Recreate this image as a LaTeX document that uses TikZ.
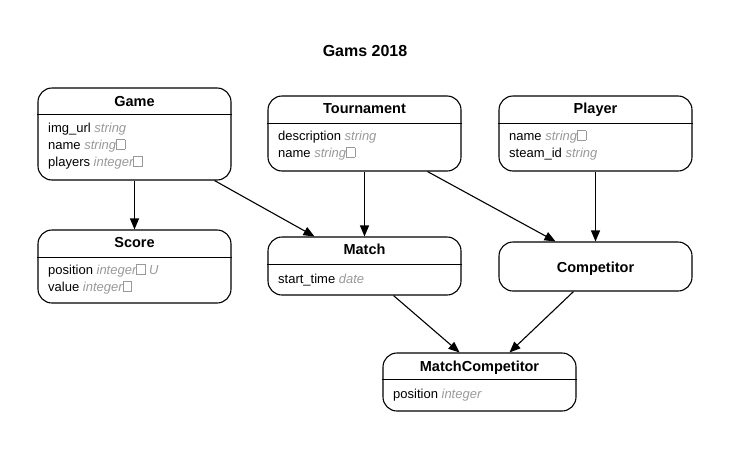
\documentclass[tikz,border=0pt]{standalone}
\usepackage{fontspec}
\setmainfont{Liberation Sans}
\usetikzlibrary{arrows.meta}
\definecolor{typegray}{HTML}{999999}
\newcommand\tofubox{{\color{typegray}\setlength\fboxsep{0pt}\setlength\fboxrule{0.6pt}\fbox{\rule{0pt}{9pt}\rule{8pt}{0pt}}}}
\newcommand\ty[1]{\textcolor{typegray}{\itshape #1}}
\tikzset{
  entity/.style={draw, line width=1.1pt, rounded corners=14pt, minimum width=193pt, inner sep=0pt},
  hdr/.style={font=\fontsize{14.5}{16}\selectfont\bfseries, anchor=base},
  attr/.style={font=\fontsize{13}{15}\selectfont, anchor=base west, inner sep=0pt},
  sep/.style={line width=1pt},
  rel/.style={line width=1.1pt, -{Triangle[length=11pt,width=9pt]}},
  title/.style={font=\fontsize{16}{18}\selectfont\bfseries, anchor=base}
}
\begin{document}
\begin{tikzpicture}[x=1pt,y=-1pt]
\useasboundingbox (0,0) rectangle (730,450);
\node[title] (t) at (365,56) {Gams 2018};
% Game
\node[entity, minimum height=92pt] (game) at (134.5,134) {};
\node[hdr] (gameh) at (134.5,106) {Game};
\draw[sep] (game.west |- 0,114) -- (game.east |- 0,114);
\node[attr] (ga1) at (48,132) {img\_url \ty{string}};
\node[attr] (ga2) at (48,149) {name \ty{string}\tofubox};
\node[attr] (ga3) at (48,166) {players \ty{integer}\tofubox};
% Tournament
\node[entity, minimum height=75pt] (tour) at (364.5,133.5) {};
\node[hdr] (tourh) at (364.5,113) {Tournament};
\draw[sep] (tour.west |- 0,123) -- (tour.east |- 0,123);
\node[attr] (ta1) at (278,140) {description \ty{string}};
\node[attr] (ta2) at (278,157) {name \ty{string}\tofubox};
% Player
\node[entity, minimum height=75pt] (player) at (595.5,133.5) {};
\node[hdr] (playerh) at (595.5,113) {Player};
\draw[sep] (player.west |- 0,123) -- (player.east |- 0,123);
\node[attr] (pa1) at (509,140) {name \ty{string}\tofubox};
\node[attr] (pa2) at (509,157) {steam\_id \ty{string}};
% Score
\node[entity, minimum height=73pt] (score) at (134.5,266.5) {};
\node[hdr] (scoreh) at (134.5,247) {Score};
\draw[sep] (score.west |- 0,257) -- (score.east |- 0,257);
\node[attr] (sa1) at (48,274) {position \ty{integer}\tofubox\ \ty{U}};
\node[attr] (sa2) at (48,291) {value \ty{integer}\tofubox};
% Match
\node[entity, minimum height=58pt] (match) at (364.5,266) {};
\node[hdr] (matchh) at (364.5,254) {Match};
\draw[sep] (match.west |- 0,264) -- (match.east |- 0,264);
\node[attr] (ma1) at (278,283) {start\_time \ty{date}};
% Competitor
\node[entity, minimum height=49pt] (comp) at (595.5,266.5) {};
\node[hdr] (comph) at (595.5,272) {Competitor};
% MatchCompetitor
\node[entity, minimum height=58pt] (mc) at (479.5,382) {};
\node[hdr] (mch) at (479.5,371) {MatchCompetitor};
\draw[sep] (mc.west |- 0,379) -- (mc.east |- 0,379);
\node[attr] (mca1) at (393,398) {position \ty{integer}};
% relations
\draw[rel] (game.south) -- (score.north);
\draw[rel] ([xshift=80pt]game.south) -- ([xshift=-50pt]match.north);
\draw[rel] (tour.south) -- (match.north);
\draw[rel] ([xshift=63pt]tour.south) -- ([xshift=-40pt]comp.north);
\draw[rel] (player.south) -- (comp.north);
\draw[rel] ([xshift=29pt]match.south) -- ([xshift=-20pt]mc.north);
\draw[rel] ([xshift=-22pt]comp.south) -- ([xshift=30pt]mc.north);
\end{tikzpicture}
\end{document}
